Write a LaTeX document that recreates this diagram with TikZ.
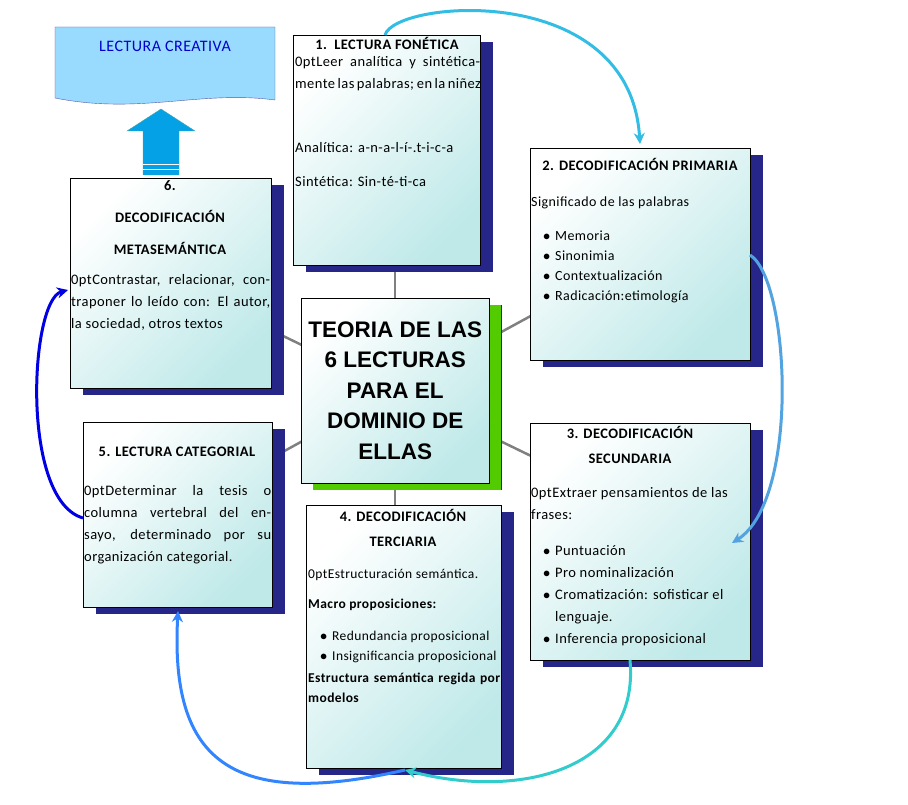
\documentclass[tikz,border=0pt]{standalone}
\usepackage{fontspec}
\setmainfont{Carlito}[LetterSpace=3]
\newfontfamily\arialf{Liberation Sans}
\usetikzlibrary{arrows.meta,shadows}
\tikzset{
 card/.style={draw=black,thin,left color=white,right color=cyan!30!teal!25,shading angle=45,
   minimum width=#1,anchor=north west,inner sep=0pt,
   drop shadow={shadow xshift=13pt,shadow yshift=-7pt,fill=blue!45!black!85,opacity=1}},
 txt/.style={anchor=north west,text width=#1,align=justify,font=\fontsize{14.5}{22}\selectfont\hyphenpenalty=10000,inner sep=0pt},
 hd/.style={anchor=north,align=center,font=\bfseries\fontsize{14.5}{25}\selectfont,inner sep=0pt},
 link/.style={gray,line width=2.5pt},
 flow/.style={line width=3pt,-{Stealth[length=11pt,width=11pt]}}
}
\begin{document}
\begin{tikzpicture}[x=1pt,y=-1pt]
\useasboundingbox (0,0) rectangle (908,805);
% connectors to center
\coordinate (cc) at (395,390);
\draw[link] (cc) -- (395,265);
\draw[link] (cc) -- (560,300);
\draw[link] (cc) -- (560,470);
\draw[link] (cc) -- (395,510);
\draw[link] (cc) -- (250,470);
\draw[link] (cc) -- (250,320);
% boxes
\node[card=187pt,minimum height=230pt] (b1) at (293,35) {};
\node[card=220pt,minimum height=212pt] (b2) at (530,148) {};
\node[card=201pt,minimum height=210pt] (b6) at (70,178) {};
\node[card=189pt,minimum height=185pt] (b5) at (83,422) {};
\node[card=220pt,minimum height=237pt] (b3) at (530,423) {};
\node[card=195pt,minimum height=263pt] (b4) at (306,505) {};
\node[card=188pt,minimum height=185pt,drop shadow={shadow xshift=12pt,shadow yshift=-7pt,fill=green!60!yellow!80!black,opacity=1}] (bc) at (301,298) {};
% center text
\node[font=\arialf\bfseries\fontsize{22.5}{30.5}\selectfont,align=center] (ct) at (bc.center) {TEORIA DE LAS\\6 LECTURAS\\PARA EL\\DOMINIO DE\\ELLAS};
% box 1
\node[hd] (h1) at (387,37) {1.\enspace LECTURA FONÉTICA};
\node[txt=185pt] (t1) at (295,56) {Leer analítica y sintéticamente las palabras; en la niñez\par\vspace{42pt}{\raggedright Analítica: a-n-a-l-í-.t-i-c-a\par\vspace{12pt}Sintética: Sin-té-ti-ca\par}};
% box 2
\node[hd] (h2) at (640,158) {2. DECODIFICACIÓN PRIMARIA};
\node[txt=215pt,font=\fontsize{14}{20}\selectfont] (t2) at (531,197) {\raggedright Significado de las palabras\par\vspace{12pt}
\begin{list}{$\bullet$}{\leftmargin=24pt\labelwidth=10pt\itemsep=0pt\parsep=0pt\topsep=0pt}
\item Memoria\item Sinonimia\item Contextualización\item Radicación:etimología\end{list}};
% box 6
\node[hd,font=\bfseries\fontsize{14.5}{32}\selectfont] (h6) at (170,180) {6.\\DECODIFICACIÓN\\METASEMÁNTICA};
\node[txt=199pt] (t6) at (71,274) {Contrastar, relacionar, contraponer lo leído con: El autor, la sociedad, otros textos};
% box 5
\node[hd] (h5) at (177,447) {5. LECTURA CATEGORIAL};
\node[txt=187pt] (t5) at (84,485) {Determinar la tesis o columna vertebral del ensayo, determinado por su organización categorial.};
% box 3
\node[hd] (h3) at (630,426) {3. DECODIFICACIÓN\\SECUNDARIA};
\node[txt=215pt] (t3) at (531,487) {\raggedright Extraer pensamientos de las frases:\par\vspace{12pt}
\begin{list}{$\bullet$}{\leftmargin=24pt\labelwidth=10pt\itemsep=0pt\parsep=0pt\topsep=0pt}
\item Puntuación\item Pro nominalización\item Cromatización: sofisticar el lenguaje.\item Inferencia proposicional\end{list}};
% box 4
\node[hd] (h4) at (403,509) {4. DECODIFICACIÓN\\TERCIARIA};
\node[txt=192pt,font=\fontsize{13.5}{20}\selectfont\hyphenpenalty=10000] (t4) at (308,569) {{\raggedright Estructuración semántica.\par\vspace{10pt}\textbf{Macro proposiciones:}\par\vspace{10pt}
\begin{list}{$\bullet$}{\leftmargin=24pt\labelwidth=10pt\itemsep=0pt\parsep=0pt\topsep=0pt}
\item Redundancia proposicional\item Insignificancia proposicional\end{list}\par}
\textbf{Estructura semántica regida por modelos}};
% Lectura creativa
\draw[draw=blue!30!gray,fill=blue!35!cyan!40] (55,27) -- (275,27) -- (275,100)
  .. controls (200,90) and (140,115) .. (55,98) -- cycle;
\node[font=\fontsize{16}{18}\selectfont,text=blue!80!black] (lc) at (165,46) {LECTURA CREATIVA};
% block arrow
\fill[cyan!90!blue,draw=teal!70] (143,175) -- (143,131) -- (127,131) -- (161,109) -- (195,131) -- (179,131) -- (179,175) -- cycle;
\draw[white,line width=1pt] (143,165) -- (179,165) (143,170) -- (179,170);
% flow arrows
\coordinate (a1) at (385,35);
\draw[flow,draw=cyan!90!green!80] (a1) .. controls (395,0) and (630,-20) .. (640,144);
\draw[flow,draw=cyan!70!blue!70] (750,255) .. controls (790,280) and (800,500) .. (732,543);
\draw[flow,draw=teal!50!cyan!80] (630,660) .. controls (640,770) and (520,800) .. (405,770);
\draw[flow,draw=blue!60!cyan!80] (405,770) .. controls (230,810) and (170,760) .. (178,611);
\draw[flow,draw=blue!90!black] (83,518) .. controls (20,500) and (30,300) .. (68,290);
\end{tikzpicture}
\end{document}
